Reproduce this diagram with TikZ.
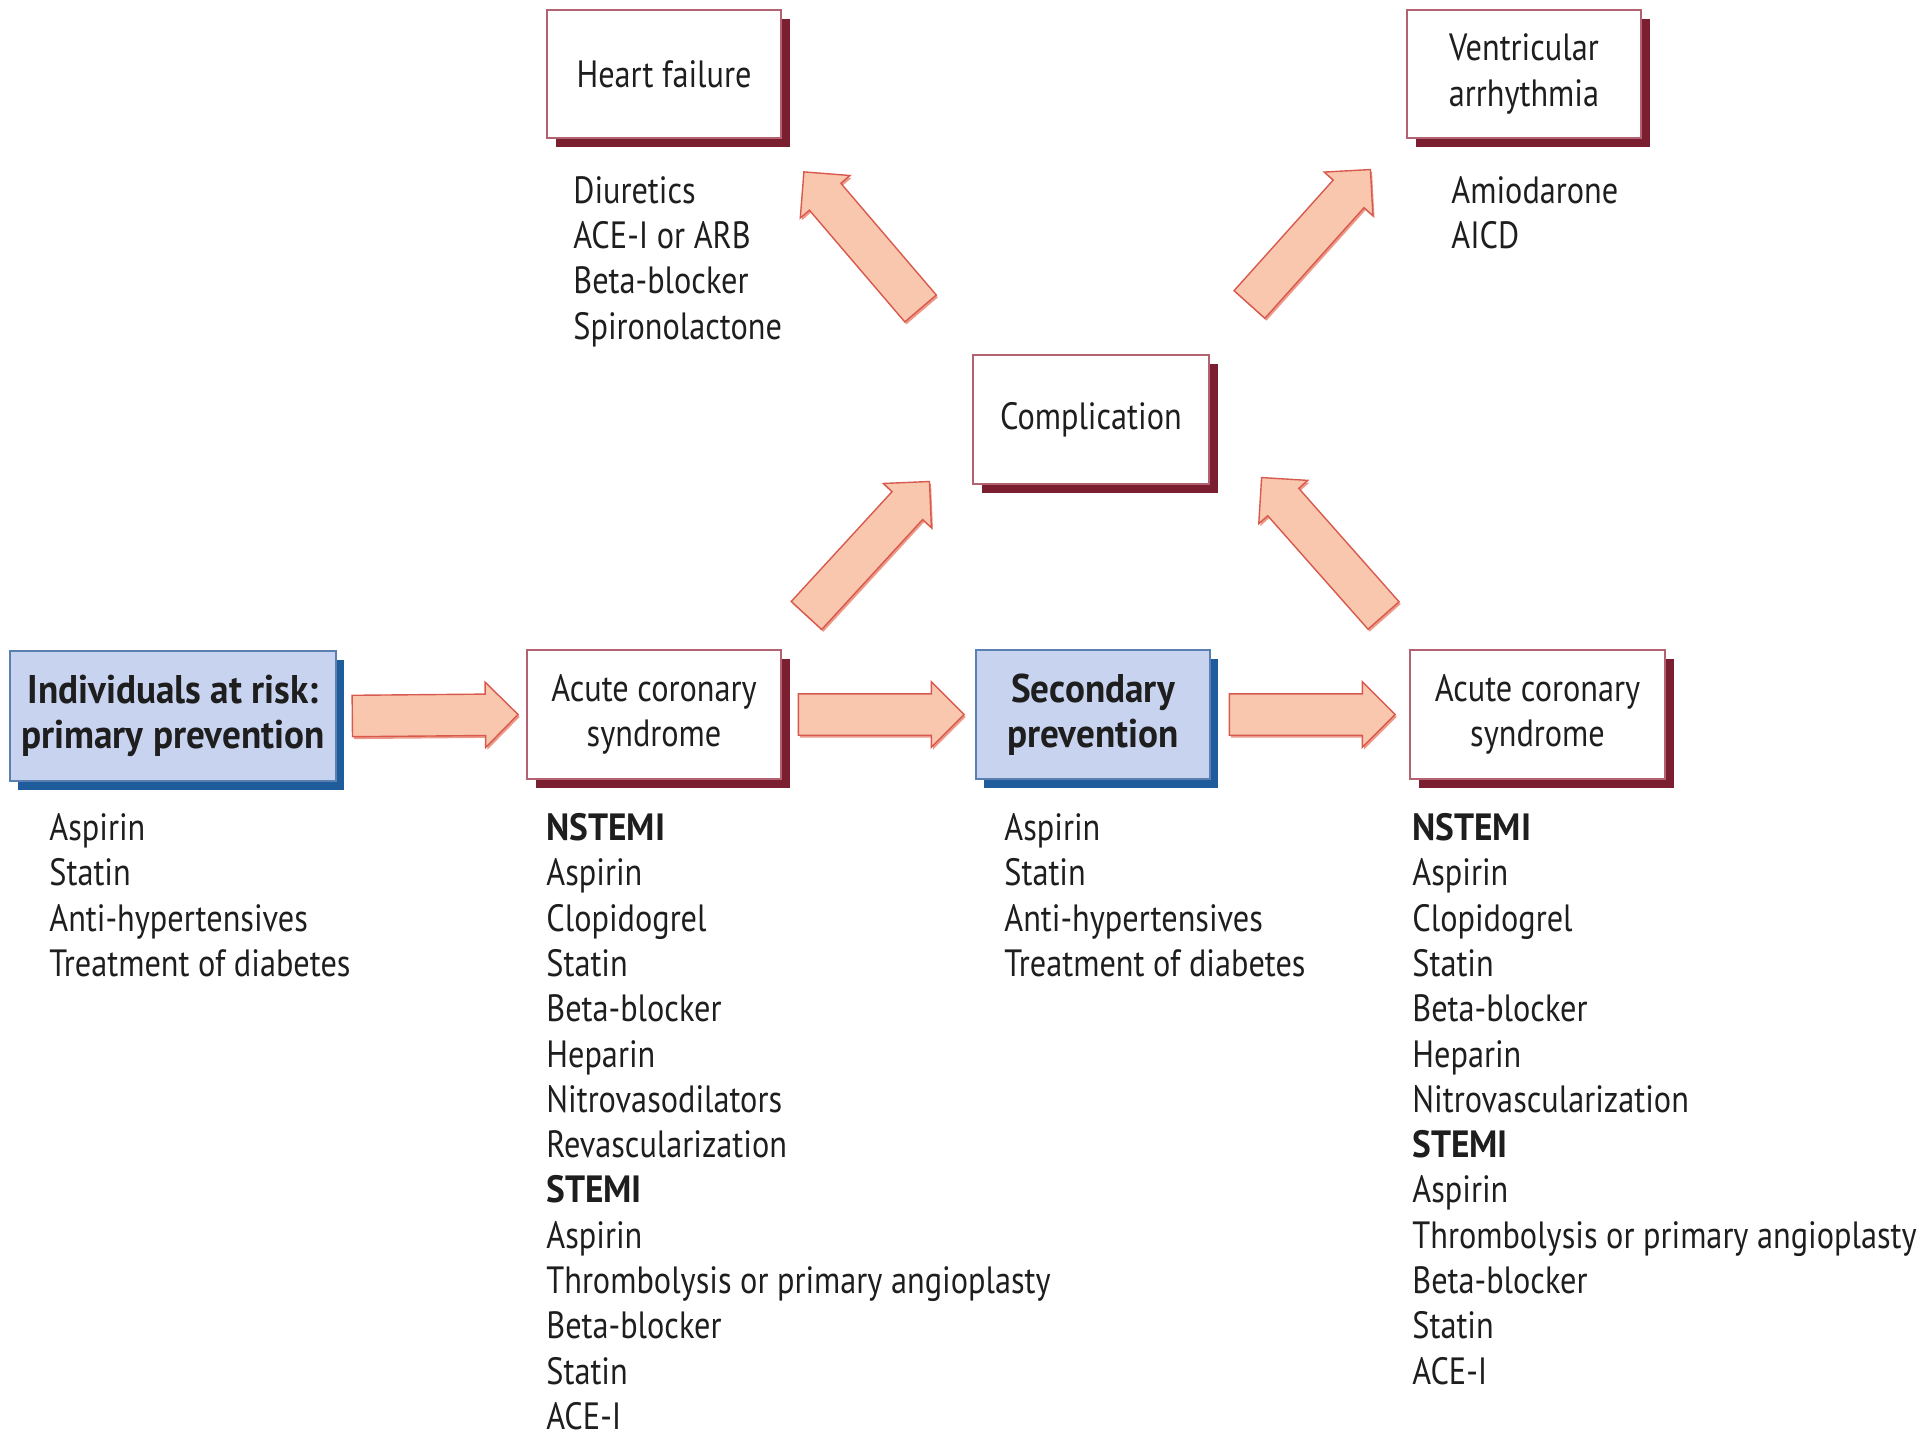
\documentclass[tikz,border=0pt]{standalone}
\usepackage{fontspec}
\setmainfont{PT Sans}[UprightFeatures={FakeStretch=0.85}, BoldFeatures={FakeStretch=0.93}]
\usetikzlibrary{shapes.arrows,shadows,calc}
\definecolor{boxedge}{HTML}{B36272}
\definecolor{boxshadow}{HTML}{7A1E30}
\definecolor{bluefill}{HTML}{C8D3F0}
\definecolor{blueedge}{HTML}{5A7FB0}
\definecolor{blueshadow}{HTML}{1E5C9C}
\definecolor{arrfill}{HTML}{F9C6AE}
\definecolor{arredge}{HTML}{D85A4E}
\definecolor{arrshadow}{HTML}{EE9A88}
\definecolor{txt}{HTML}{1E1E1E}
\newcommand\listfont{\fontsize{19}{22.65}\selectfont}
\newcommand\boxfont{\fontsize{19}{22.65}\selectfont}
\newcommand\bluefont{\fontsize{20}{22.65}\selectfont\bfseries}
\newcommand\blockarrow[3]{%
  \path let \p1=($(#3)-(#2)$), \n1={veclen(\x1,\y1)} in
    (#2) -- (#3) node[pos=0, sloped, allow upside down, anchor=tail, bigarrow, minimum height=\n1] (#1) {};}
\tikzset{
  box/.style={draw=boxedge, line width=0.6pt, fill=white, inner sep=0pt,
    align=center, font=\boxfont, text=txt,
    general shadow={fill=boxshadow, shadow xshift=4.5pt, shadow yshift=-4.5pt}},
  bluebox/.style={draw=blueedge, line width=0.6pt, fill=bluefill, inner sep=0pt,
    align=center, font=\bluefont, text=txt,
    general shadow={fill=blueshadow, shadow xshift=4pt, shadow yshift=-4.5pt}},
  list/.style={anchor=north west, inner sep=0pt, align=left, font=\listfont, text=txt},
  bigarrow/.style={single arrow, draw=arredge, fill=arrfill, line width=0.7pt,
    inner xsep=0pt, inner ysep=10pt, single arrow head extend=6pt,
    single arrow tip angle=90, single arrow head indent=0pt,
    general shadow={fill=arrshadow, shadow xshift=0.8pt, shadow yshift=-1.2pt}}
}
\begin{document}
\begin{tikzpicture}[x=0.5pt, y=-0.5pt]
\path[use as bounding box] (0,0) rectangle (1920,1440);

% boxes
\node[box, minimum width=117pt, minimum height=64pt] (hf) at (664,74) {Heart failure};
\node[box, minimum width=117pt, minimum height=64pt] (va) at (1524,74) {Ventricular\\arrhythmia};
\node[box, minimum width=118pt, minimum height=64.5pt] (comp) at (1091,419.5) {Complication};
\node[bluebox, minimum width=163pt, minimum height=65pt] (ind) at (173,716) {Individuals at risk:\\primary prevention};
\node[box, minimum width=127pt, minimum height=64.5pt] (acs1) at (654,714.5) {Acute coronary\\syndrome};
\node[bluebox, minimum width=117pt, minimum height=64.5pt] (sec) at (1093,714.5) {Secondary\\prevention};
\node[box, minimum width=127.5pt, minimum height=64.5pt] (acs2) at (1537.5,714.5) {Acute coronary\\syndrome};

% lists
\node[list] (hflist) at (573,176) {Diuretics\\ACE-I or ARB\\Beta-blocker\\Spironolactone};
\node[list] (valist) at (1451,176) {Amiodarone\\AICD};
\node[list] (indlist) at (49,813) {Aspirin\\Statin\\Anti-hypertensives\\Treatment of diabetes};
\node[list] (seclist) at (1004,813) {Aspirin\\Statin\\Anti-hypertensives\\Treatment of diabetes};
\node[list] (acs1list) at (546,813) {\textbf{NSTEMI}\\Aspirin\\Clopidogrel\\Statin\\Beta-blocker\\Heparin\\Nitrovasodilators\\Revascularization\\\textbf{STEMI}\\Aspirin\\Thrombolysis or primary angioplasty\\Beta-blocker\\Statin\\ACE-I};
\node[list] (acs2list) at (1412,813) {\textbf{NSTEMI}\\Aspirin\\Clopidogrel\\Statin\\Beta-blocker\\Heparin\\Nitrovascularization\\\textbf{STEMI}\\Aspirin\\Thrombolysis or primary angioplasty\\Beta-blocker\\Statin\\ACE-I};

% arrow end points
\coordinate (a1s) at ($(ind.east)+(15,0)$);
\coordinate (a1e) at ($(acs1.west)+(-9,0)$);
\coordinate (a2s) at ($(acs1.east)+(16,0)$);
\coordinate (a2e) at ($(sec.west)+(-12,0)$);
\coordinate (a3s) at ($(sec.east)+(18,0)$);
\coordinate (a3e) at ($(acs2.west)+(-15,0)$);
\coordinate (d1s) at (806,616);
\coordinate (d1e) at (929,482);
\coordinate (d2s) at (1384,616);
\coordinate (d2e) at (1262,478);
\coordinate (d3s) at (921,309);
\coordinate (d3e) at (804,172);
\coordinate (d4s) at (1249,305);
\coordinate (d4e) at (1370,170);

\blockarrow{arr1}{a1s}{a1e}
\blockarrow{arr2}{a2s}{a2e}
\blockarrow{arr3}{a3s}{a3e}
\blockarrow{arr4}{d1s}{d1e}
\blockarrow{arr5}{d2s}{d2e}
\blockarrow{arr6}{d3s}{d3e}
\blockarrow{arr7}{d4s}{d4e}
\end{tikzpicture}
\end{document}
